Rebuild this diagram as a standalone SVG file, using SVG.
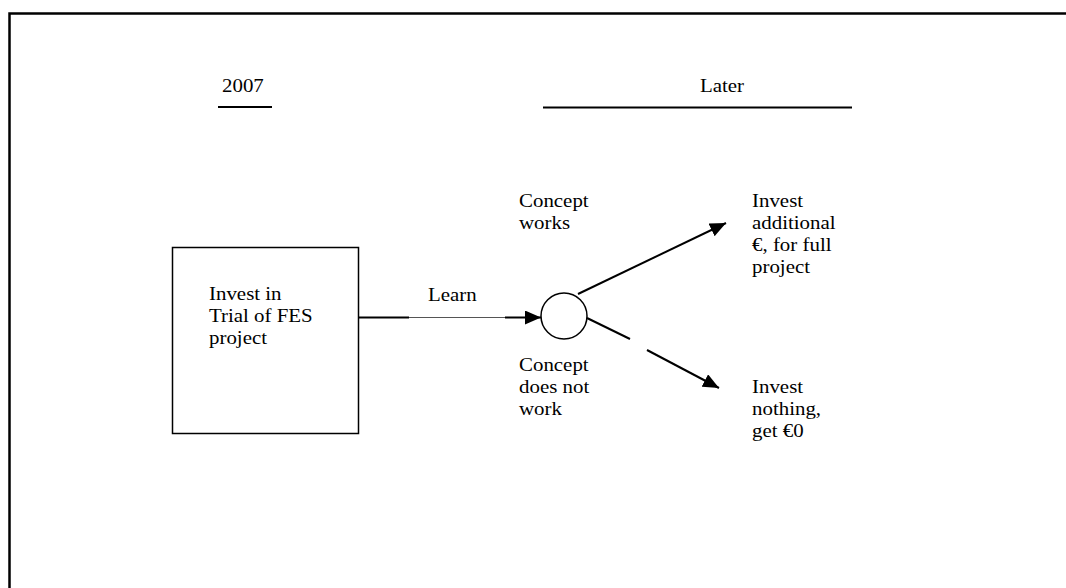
<svg xmlns="http://www.w3.org/2000/svg" width="1066" height="588" viewBox="0 0 1066 588">
<style>
text{font-family:"Liberation Serif","Times New Roman",serif;font-size:19px;fill:#000}
.ln{stroke:#000;stroke-width:2;fill:none}
</style>
<defs>
<marker id="ah" markerUnits="userSpaceOnUse" markerWidth="16" markerHeight="14" refX="16" refY="7" orient="auto">
<path d="M0 0 L16 7 L0 14 z" fill="#000"/>
</marker>
</defs>
<rect width="1066" height="588" fill="#fff"/>
<rect x="9.5" y="13.5" width="1100" height="600" fill="none" stroke="#000" stroke-width="2.5"/>
<g id="header-2007">
<text transform="translate(222 92) scale(1.1 1)">2007</text>
<line x1="218" y1="107" x2="272" y2="107" class="ln"/>
</g>
<g id="header-later">
<text transform="translate(700 92) scale(1.1 1)">Later</text>
<line x1="543" y1="107.5" x2="852" y2="107.5" class="ln"/>
</g>
<g id="node-trial">
<rect x="172.5" y="247.5" width="186" height="186" fill="none" stroke="#000" stroke-width="1.5"/>
<text transform="translate(209 300) scale(1.1 1)">Invest in</text>
<text transform="translate(209 322) scale(1.1 1)">Trial of FES</text>
<text transform="translate(209 344) scale(1.1 1)">project</text>
</g>
<g id="node-chance">
<circle cx="564" cy="316" r="23" fill="none" stroke="#000" stroke-width="1.5"/>
</g>
<g id="node-full">
<text transform="translate(752 207) scale(1.1 1)">Invest</text>
<text transform="translate(752 229) scale(1.1 1)">additional</text>
<text transform="translate(752 251) scale(1.1 1)">€, for full</text>
<text transform="translate(752 273) scale(1.1 1)">project</text>
</g>
<g id="node-nothing">
<text transform="translate(752 393) scale(1.1 1)">Invest</text>
<text transform="translate(752 415) scale(1.1 1)">nothing,</text>
<text transform="translate(752 437) scale(1.1 1)">get €0</text>
</g>
<g id="connectors">
<line x1="359" y1="317.5" x2="409" y2="317.5" class="ln"/>
<line x1="409" y1="317.5" x2="505" y2="317.5" stroke="#555" stroke-width="1"/>
<line x1="505" y1="317.5" x2="541" y2="317.5" class="ln" marker-end="url(#ah)"/>
<line x1="578" y1="294" x2="726" y2="223" class="ln" marker-end="url(#ah)"/>
<line x1="587" y1="318" x2="630" y2="339" class="ln"/>
<line x1="647" y1="350" x2="719" y2="388" class="ln" marker-end="url(#ah)"/>
</g>
<g id="labels">
<text transform="translate(428 301) scale(1.1 1)">Learn</text>
<text transform="translate(519 207) scale(1.1 1)">Concept</text>
<text transform="translate(519 229) scale(1.1 1)">works</text>
<text transform="translate(519 371) scale(1.1 1)">Concept</text>
<text transform="translate(519 393) scale(1.1 1)">does not</text>
<text transform="translate(519 415) scale(1.1 1)">work</text>
</g>
</svg>
